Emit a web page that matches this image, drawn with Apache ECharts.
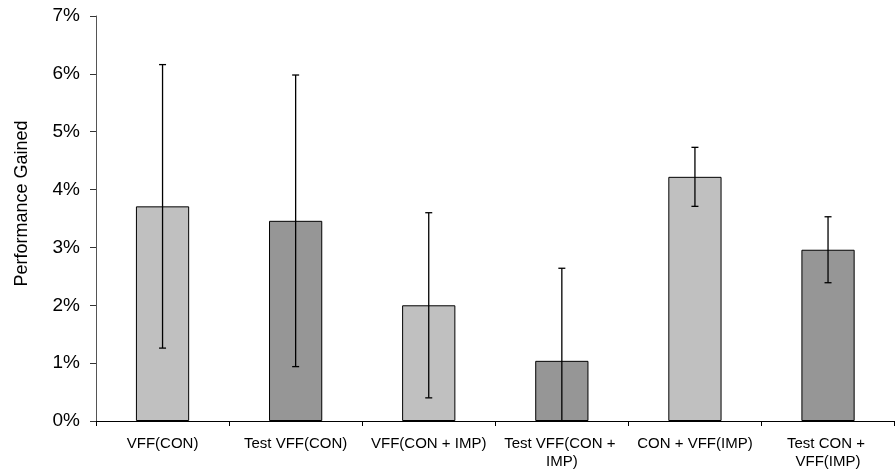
<!DOCTYPE html>
<html>
<head>
<meta charset="utf-8">
<script src="https://cdn.jsdelivr.net/npm/echarts@6/dist/echarts.min.js"></script>
<style>
html,body{margin:0;padding:0;background:#fff;}
#chart{width:896px;height:471px;}
</style>
</head>
<body>
<div id="chart"></div>
<script>
const categories = ['VFF(CON)', 'Test VFF(CON)', 'VFF(CON + IMP)', 'Test VFF(CON + IMP)', 'CON + VFF(IMP)', 'Test CON + VFF(IMP)'];
const values = [3.71, 3.46, 2.00, 1.04, 4.22, 2.96];
const errors = [2.45, 2.52, 1.60, 1.60, 0.51, 0.57];
const barColors = ['#c0c0c0', '#969696', '#c0c0c0', '#969696', '#c0c0c0', '#969696'];
const yTicks = [0, 1, 2, 3, 4, 5, 6, 7];

const chart = echarts.init(document.getElementById('chart'), null, {renderer: 'canvas'});
const font = 'Liberation Sans, Arial, sans-serif';

const errData = values.map((v, i) => [i, Math.max(0, v - errors[i]), v + errors[i], v - errors[i] < 0 ? 0 : 1]);

chart.setOption({
  animation: false,
  backgroundColor: '#fff',
  grid: {left: 96, top: 16, width: 811, height: 405, containLabel: false},
  xAxis: {
    type: 'category',
    data: categories,
    axisLine: {lineStyle: {color: '#000', width: 1}},
    axisTick: {show: true, alignWithLabel: false, length: 5, lineStyle: {color: '#000'}},
    axisLabel: {
      color: '#000', fontFamily: font, fontSize: 15, margin: 14,
      width: 132, overflow: 'break', lineHeight: 18, interval: 0
    },
    splitLine: {show: false}
  },
  yAxis: {
    type: 'value',
    min: yTicks[0], max: yTicks[yTicks.length - 1], interval: 1,
    name: 'Performance Gained',
    nameLocation: 'middle',
    nameGap: 65,
    nameTextStyle: {color: '#000', fontFamily: font, fontSize: 18, padding: [0, 0, 0, 30]},
    axisLine: {show: true, lineStyle: {color: '#555', width: 1}},
    axisTick: {show: true, inside: false, length: 6, lineStyle: {color: '#333'}},
    axisLabel: {color: '#000', fontFamily: font, fontSize: 19, margin: 16, formatter: '{value}%'},
    splitLine: {show: false}
  },
  series: [
    {
      type: 'bar',
      data: values.map((v, i) => ({value: v, itemStyle: {color: barColors[i]}})),
      barWidth: '40%',
      itemStyle: {borderColor: '#000', borderWidth: 1},
      z: 2
    },
    {
      type: 'custom',
      data: errData,
      z: 5,
      renderItem: function (params, api) {
        const x = api.value(0);
        const lo = api.coord([x, api.value(1)]);
        const hi = api.coord([x, api.value(2)]);
        const hasLowCap = api.value(3) === 1;
        const cap = 3.5;
        const style = {stroke: '#000', lineWidth: 1.3};
        const children = [
          {type: 'line', shape: {x1: hi[0], y1: hi[1], x2: lo[0], y2: lo[1]}, style: style},
          {type: 'line', shape: {x1: hi[0] - cap, y1: hi[1], x2: hi[0] + cap, y2: hi[1]}, style: style}
        ];
        if (hasLowCap) {
          children.push({type: 'line', shape: {x1: lo[0] - cap, y1: lo[1], x2: lo[0] + cap, y2: lo[1]}, style: style});
        }
        return {type: 'group', children: children};
      }
    }
  ]
});
</script>
</body>
</html>
